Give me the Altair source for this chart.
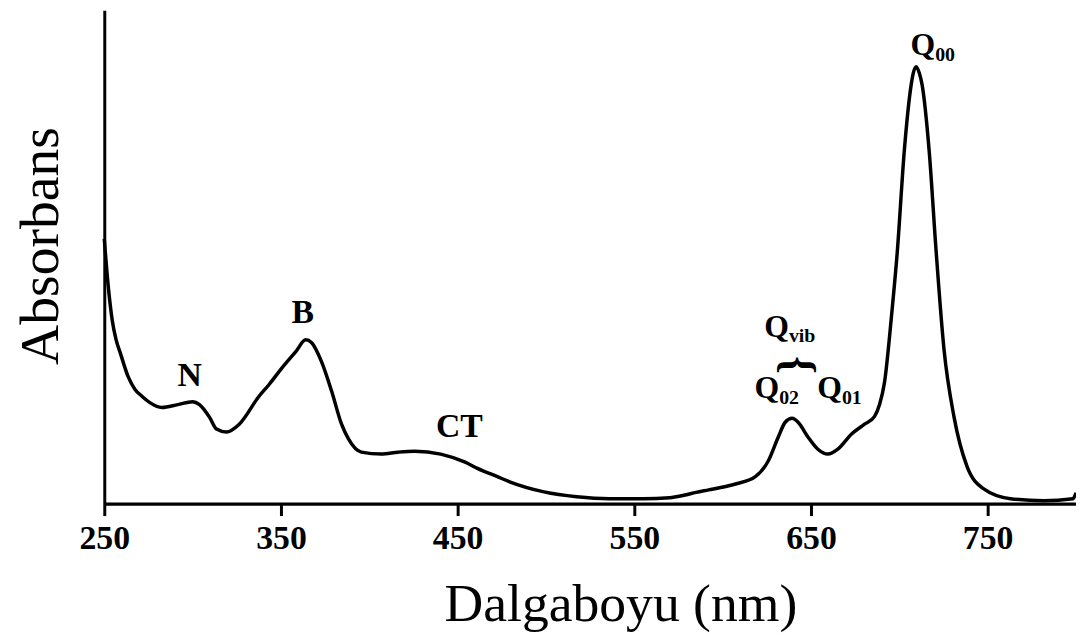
import altair as alt
import pandas as pd

# Spectrum (arbitrary absorbance units)
wavelength = [250.0, 252.2, 254.5, 256.7, 259.0, 263.5, 267.4, 271.3, 275.8, 282.6,
              291.6, 300.0, 303.9, 309.6, 313.5, 319.1, 326.4, 337.6, 343.3, 350.6,
              358.4, 364.0, 367.4, 373.0, 378.7, 384.3, 388.2, 395.5, 406.7, 416.3,
              425.8, 440.4, 453.9, 461.2, 472.5, 479.8, 498.9, 517.4, 536.0, 555.1,
              570.0, 578.0, 585.0, 592.1, 601.7, 607.3, 618.5, 625.8, 631.5, 635.4, 639.3,
              642.7, 648.3, 653.9, 659.6, 665.2, 673.0, 680.3, 686.0, 688.8, 691.6,
              695.5, 698.9, 702.8, 706.7, 707.9, 709.6, 711.3, 712.9, 716.9, 720.8,
              725.3, 730.9, 738.2, 747.8, 762.9, 781.5, 798.3, 800.0]
absorbance = [0.534, 0.439, 0.368, 0.328, 0.302, 0.253, 0.227, 0.213, 0.200, 0.190,
              0.196, 0.202, 0.196, 0.170, 0.146, 0.140, 0.156, 0.213, 0.237, 0.271,
              0.304, 0.328, 0.322, 0.283, 0.223, 0.156, 0.126, 0.099, 0.095, 0.099,
              0.101, 0.095, 0.079, 0.066, 0.049, 0.038, 0.018, 0.008, 0.004, 0.004,
              0.006, 0.011, 0.017, 0.022, 0.029, 0.034, 0.049, 0.081, 0.130, 0.160, 0.168,
              0.160, 0.130, 0.105, 0.095, 0.105, 0.136, 0.156, 0.172, 0.196, 0.241,
              0.374, 0.510, 0.713, 0.848, 0.872, 0.885, 0.872, 0.848, 0.713, 0.510,
              0.308, 0.172, 0.071, 0.024, 0.004, 0.000, 0.004, 0.016]

tick_values = [250, 350, 450, 550, 650, 750]

# Band labels (plain)
band_text = ["N", "B", "CT"]
band_x = [298.3, 362.3, 451.0]
band_y = [0.233, 0.362, 0.130]

# Q labels: main letter and subscript
q_main = ["Q", "Q", "Q", "Q"]
q_sub = ["vib", "02", "01", "00"]
q_x = [637.5, 632.0, 667.5, 720.3]
q_y = [0.334, 0.2085, 0.2085, 0.909]
q_sub_y = [0.324, 0.198, 0.198, 0.897]

brace_x = [642.5]
brace_y = [0.277]

spec = pd.DataFrame({"wl": wavelength, "abs": absorbance})
bands = pd.DataFrame({"t": band_text, "x": band_x, "y": band_y})
qlab = pd.DataFrame({"m": q_main, "s": q_sub, "x": q_x, "y": q_y, "ys": q_sub_y})
brace = pd.DataFrame({"t": ["{"], "x": brace_x, "y": brace_y})

xs = alt.Scale(domain=[250, 800], nice=False, zero=False)
ys = alt.Scale(domain=[-0.006, 1.0], nice=False, zero=False)

line = alt.Chart(spec).mark_line(color="black", strokeWidth=3.5, interpolate="monotone").encode(
    x=alt.X("wl:Q", scale=xs,
            axis=alt.Axis(values=tick_values, title="Dalgaboyu (nm)", grid=False,
                          domainColor="black", domainWidth=3.5, tickColor="black",
                          tickWidth=3, tickSize=12, labelPadding=6,
                          labelFont="Liberation Serif", labelFontWeight="bold",
                          labelFontSize=34, labelColor="black", labelFlush=False,
                          titleFont="Liberation Serif", titleFontWeight="normal",
                          titleFontSize=54, titleColor="black",
                          titleX=520, titleY=118, titleBaseline="alphabetic",
                          titleAlign="center")),
    y=alt.Y("abs:Q", scale=ys,
            axis=alt.Axis(title="Absorbans", grid=False, ticks=False, labels=False,
                          domainColor="black", domainWidth=3,
                          titleFont="Liberation Serif", titleFontWeight="normal",
                          titleFontSize=56, titleColor="black",
                          titleAngle=270, titleX=-47, titleY=237,
                          titleBaseline="alphabetic", titleAlign="center")),
)

band_marks = alt.Chart(bands).mark_text(
    font="Liberation Serif", fontWeight="bold", fontSize=34, color="black",
    align="center", baseline="alphabetic").encode(
    x=alt.X("x:Q", scale=xs), y=alt.Y("y:Q", scale=ys), text="t:N")

q_main_marks = alt.Chart(qlab).mark_text(
    font="Liberation Serif", fontWeight="bold", fontSize=32, color="black",
    align="right", baseline="alphabetic").encode(
    x=alt.X("x:Q", scale=xs), y=alt.Y("y:Q", scale=ys), text="m:N")

q_sub_marks = alt.Chart(qlab).mark_text(
    font="Liberation Serif", fontWeight="bold", fontSize=20, color="black",
    align="left", baseline="alphabetic").encode(
    x=alt.X("x:Q", scale=xs), y=alt.Y("ys:Q", scale=ys), text="s:N")

brace_mark = alt.Chart(brace).mark_text(
    font="Liberation Serif", fontWeight="bold", fontSize=46, color="black",
    align="center", baseline="middle", angle=90).encode(
    x=alt.X("x:Q", scale=xs), y=alt.Y("y:Q", scale=ys), text="t:N")

chart = alt.layer(line, band_marks, q_main_marks, q_sub_marks, brace_mark).properties(
    width=979, height=497,
    autosize=alt.AutoSizeParams(type="none"),
    padding={"left": 97, "top": 0, "right": 0, "bottom": 130},
    background="white",
).configure_view(stroke=None)

chart.save("out.html", embed_options={"renderer": "svg", "actions": False})
